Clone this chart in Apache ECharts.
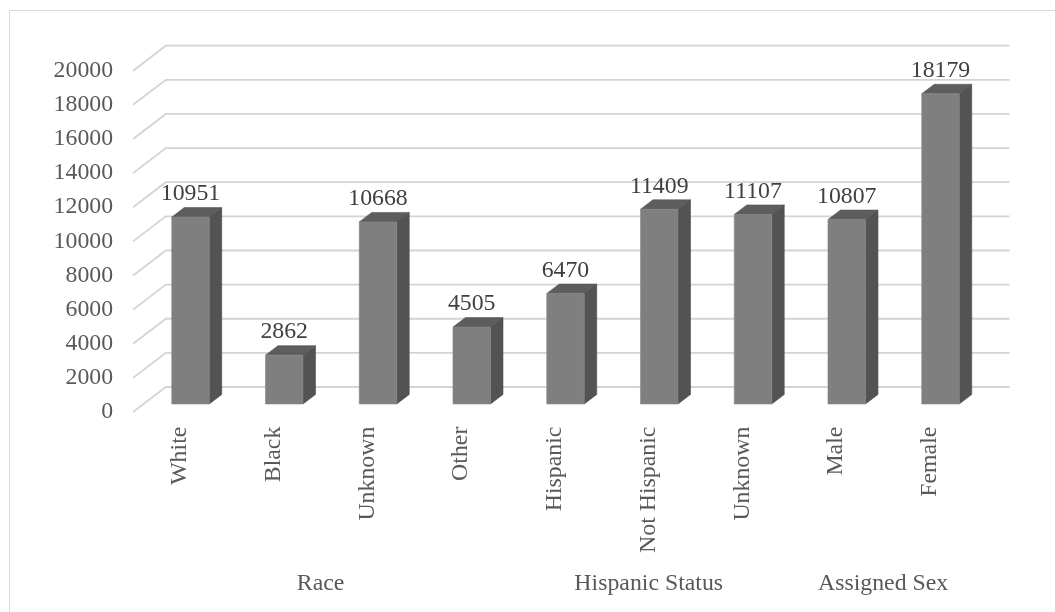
<!DOCTYPE html>
<html>
<head>
<meta charset="utf-8">
<script src="https://cdn.jsdelivr.net/npm/echarts@6/dist/echarts.min.js"></script>
<style>
html, body { margin: 0; padding: 0; background: #ffffff; }
#chart { width: 1055px; height: 612px; }
</style>
</head>
<body>
<div id="chart"></div>
<script>
// Category labels along the floor, one per column
const categories = ['White', 'Black', 'Unknown', 'Other', 'Hispanic', 'Not Hispanic', 'Unknown', 'Male', 'Female'];
// Patient counts for each column
const counts = [10951, 2862, 10668, 4505, 6470, 11409, 11107, 10807, 18179];
// Outer grouping of the categories
const groupNames = ['Race', 'Hispanic Status', 'Assigned Sex'];
const groupSizes = [4, 3, 2];
// Value axis ticks
const yTicks = [0, 2000, 4000, 6000, 8000, 10000, 12000, 14000, 16000, 18000, 20000];

const FONT = "'Liberation Serif', 'Times New Roman', serif";
const TEXT = '#595959';
const FS = 23.8;

// Perspective offsets (pixels) for the pseudo-3D box
const FRONT_SHIFT = [-10.5, 8];    // column plane -> front edge of floor
const BACK_SHIFT = [22.2, -17];    // column plane -> back wall
const BOX_DEPTH = [12.5, -9.5];    // depth of each column
const BAR_W = 37.5;

// group index ranges
const groups = [];
let start = 0;
groupSizes.forEach((n, g) => { groups.push([start, start + n - 1, g]); start += n; });

const chart = echarts.init(document.getElementById('chart'), null, { renderer: 'canvas' });

const option = {
  animation: false,
  backgroundColor: '#ffffff',
  graphic: [{
    type: 'rect',
    shape: { x: 9.5, y: 10.5, width: 1100, height: 700 },
    style: { fill: 'none', stroke: '#d9d9d9', lineWidth: 1 },
    silent: true
  }],
  grid: [
    // plane of the column front faces
    { left: 143.6, width: 843.75, top: 62.7, height: 341.3 },
    // front edge of the floor (axis labels)
    { left: 133.1, width: 843.75, top: 70.7, height: 341.3 }
  ],
  xAxis: [
    { type: 'category', gridIndex: 0, data: categories, show: false },
    {
      type: 'category', gridIndex: 1, data: categories,
      axisLine: { show: false }, axisTick: { show: false },
      axisLabel: { rotate: 90, interval: 0, margin: 14.7, color: TEXT, fontFamily: FONT, fontSize: FS }
    }
  ],
  yAxis: [
    { type: 'value', gridIndex: 0, min: 0, max: 20000, interval: 2000, show: false },
    {
      type: 'value', gridIndex: 1, min: 0, max: 20000, interval: 2000,
      axisLine: { show: false }, axisTick: { show: false }, splitLine: { show: false },
      axisLabel: { margin: 20, color: TEXT, fontFamily: FONT, fontSize: FS, formatter: v => String(v) }
    }
  ],
  series: [
    {
      // gridlines: floor-edge diagonal + back wall line
      type: 'custom', xAxisIndex: 0, yAxisIndex: 0, z: 1, silent: true,
      data: yTicks.map(v => [0, v]),
      renderItem(params, api) {
        const cs = params.coordSys;
        const y = api.coord([0, api.value(1)])[1];
        const left = cs.x, right = cs.x + cs.width;
        return {
          type: 'polyline',
          shape: { points: [
            [left + FRONT_SHIFT[0], y + FRONT_SHIFT[1]],
            [left + BACK_SHIFT[0], y + BACK_SHIFT[1]],
            [right + BACK_SHIFT[0], y + BACK_SHIFT[1]]
          ] },
          style: { stroke: '#d4d4d4', lineWidth: 1.8, fill: 'none' }
        };
      }
    },
    {
      // columns drawn as boxes
      type: 'custom', xAxisIndex: 0, yAxisIndex: 0, z: 3,
      data: counts.map((v, i) => [i, v]),
      renderItem(params, api) {
        const i = api.value(0), v = api.value(1);
        const top = api.coord([i, v]);
        const bot = api.coord([i, 0]);
        const x0 = top[0] - BAR_W / 2, x1 = top[0] + BAR_W / 2;
        const yt = top[1], yb = bot[1];
        const dx = BOX_DEPTH[0], dy = BOX_DEPTH[1];
        return {
          type: 'group',
          children: [
            { type: 'polygon', shape: { points: [[x1, yt], [x1 + dx, yt + dy], [x1 + dx, yb + dy], [x1, yb]] },
              style: { fill: '#535353', stroke: '#4a4a4a', lineWidth: 0.6 } },
            { type: 'polygon', shape: { points: [[x0, yt], [x0 + dx, yt + dy], [x1 + dx, yt + dy], [x1, yt]] },
              style: { fill: '#5d5d5d', stroke: '#555555', lineWidth: 0.6 } },
            { type: 'rect', shape: { x: x0, y: yt, width: BAR_W, height: yb - yt },
              style: { fill: '#7f7f7f', stroke: '#8a8a8a', lineWidth: 0.6 } },
            { type: 'text', x: top[0], y: yt - 23,
              style: { text: String(v), fill: '#404040', font: FS + 'px ' + FONT, align: 'center', verticalAlign: 'middle' } }
          ]
        };
      }
    },
    {
      // outer category group labels
      type: 'custom', xAxisIndex: 1, yAxisIndex: 1, z: 3, silent: true,
      data: groups,
      renderItem(params, api) {
        const a = api.coord([api.value(0), 0]);
        const b = api.coord([api.value(1), 0]);
        return {
          type: 'text', x: (a[0] + b[0]) / 2, y: 584,
          style: { text: groupNames[api.value(2)], fill: TEXT, font: FS + 'px ' + FONT, align: 'center', verticalAlign: 'middle' }
        };
      }
    }
  ]
};

chart.setOption(option);
</script>
</body>
</html>
